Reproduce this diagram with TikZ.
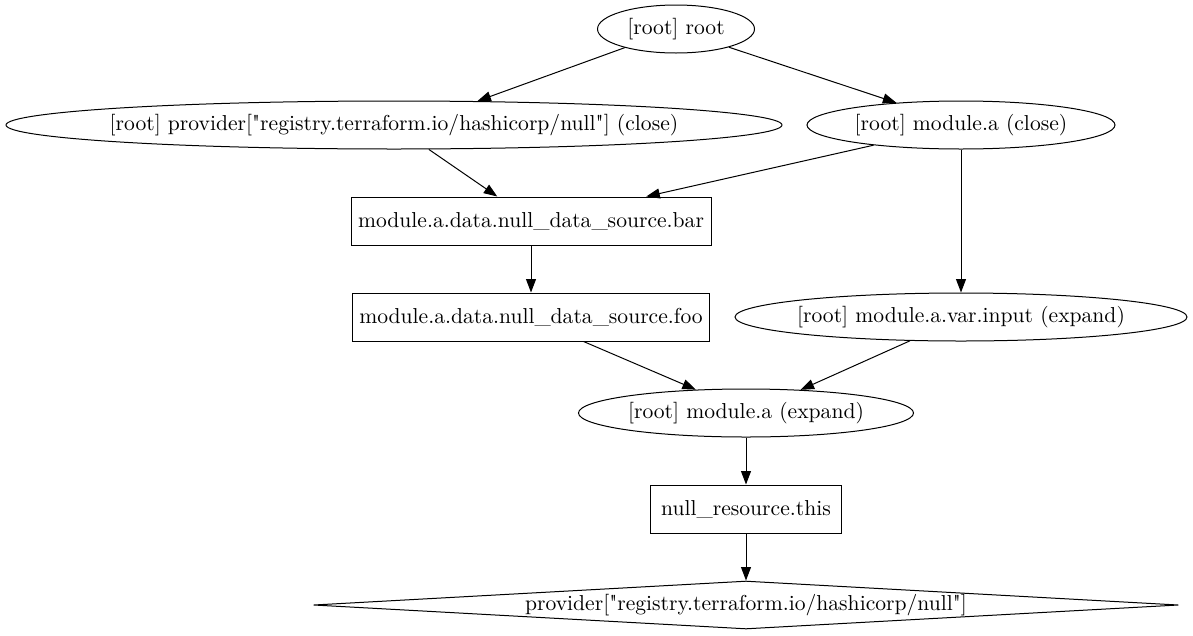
\documentclass[tikz,border=0pt]{standalone}
\usetikzlibrary{shapes.geometric,arrows.meta}
\font\gvfont="[lmroman10-regular.otf]" at 21.6pt
\newcommand\zw[1]{\makebox[0pt]{#1}}
\begin{document}
\begin{tikzpicture}[x=1pt,y=-1pt,
  every node/.style={font=\gvfont, inner sep=0pt, line width=1pt},
  ell/.style={draw, ellipse, minimum height=48pt},
  box/.style={draw, rectangle, minimum height=48pt},
  dia/.style={draw, diamond, shape aspect=18, minimum height=48pt},
  conn/.style={draw, line width=1pt, -{Triangle[length=13.5pt,width=10pt]}}]
\useasboundingbox[fill=white] (0,0) rectangle (1193,635);
\node[ell, minimum width=157pt] (root) at (676,29) {\zw{[root] root}};
\node[ell, minimum width=776pt] (pclose) at (394,125) {\zw{[root] provider["registry.terraform.io/hashicorp/null"] (close)}};
\node[ell, minimum width=308pt] (mclose) at (961,125) {\zw{[root] module.a (close)}};
\node[box, minimum width=360pt] (bar) at (531,221) {\zw{module.a.data.null\_data\_source.bar}};
\node[box, minimum width=357pt] (foo) at (531,317) {\zw{module.a.data.null\_data\_source.foo}};
\node[ell, minimum width=452pt] (varin) at (961,317) {\zw{[root] module.a.var.input (expand)}};
\node[ell, minimum width=335pt] (mexp) at (746,413) {\zw{[root] module.a (expand)}};
\node[box, minimum width=191pt] (nullr) at (746,509) {\zw{null\_resource.this}};
\node[dia, minimum width=865pt] (prov) at (746,605) {\zw{provider["registry.terraform.io/hashicorp/null"]}};
\draw[conn] (root.200) -- (pclose.16);
\draw[conn] (root.341) -- (mclose.161.6);
\draw[conn] (pclose.325) -- (bar.144);
\draw[conn] (mclose.193.7) -- (bar.12.6);
\draw[conn] (mclose.270) -- (varin.90);
\draw[conn] (bar.270) -- (foo.90);
\draw[conn] (foo.335.6) -- (mexp.155.6);
\draw[conn] (varin.205.6) -- (mexp.23.6);
\draw[conn] (mexp.270) -- (nullr.90);
\draw[conn] (nullr.270) -- (prov.90);
\end{tikzpicture}
\end{document}
